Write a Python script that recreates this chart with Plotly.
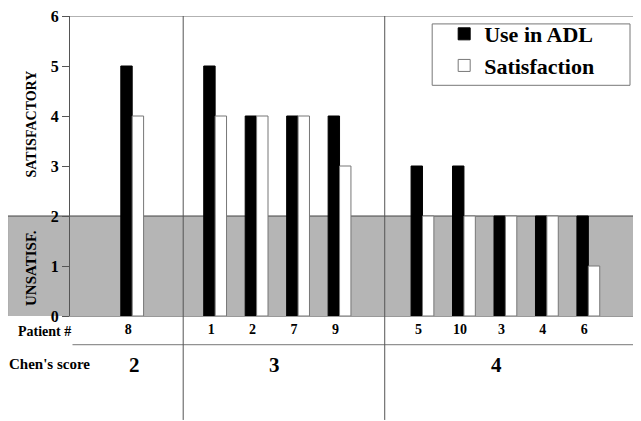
import plotly.graph_objects as go

# ---- data ----
patients = ["8", "1", "2", "7", "9", "5", "10", "3", "4", "6"]
slots = [1, 3, 4, 5, 6, 8, 9, 10, 11, 12]          # category slot of each patient
use_in_adl = [5, 5, 4, 4, 4, 3, 3, 2, 2, 2]
satisfaction = [4, 4, 4, 4, 3, 2, 2, 2, 2, 1]
chen_scores = ["2", "3", "4"]
chen_groups = [[1], [3, 4, 5, 6], [8, 9, 10, 11, 12]]
y_ticks = [0, 1, 2, 3, 4, 5, 6]

SERIF = "Liberation Serif, Times New Roman, serif"

OFF = 8                      # page body margin
W, H = 641 - OFF, 421 - OFF
ML, MR, MT, MB = 69.5 - OFF, 0, 13 - OFF, 113 - OFF
PW, PH = W - ML - MR, H - MT - MB


def px_x(sx):
    return (sx - OFF - ML) / PW


def px_y(sy):
    return (H - MB - (sy - OFF)) / PH


def bold(size):
    return dict(family=SERIF, size=size, color="black", weight="bold")


fig = go.Figure()
fig.add_trace(go.Bar(
    x=slots, y=use_in_adl, name="Use in ADL",
    marker=dict(color="black", line=dict(color="black", width=1)),
))
fig.add_trace(go.Bar(
    x=slots, y=satisfaction, name="Satisfaction",
    marker=dict(color="white", line=dict(color="#777777", width=1)),
))

shapes = [
    dict(type="rect", xref="paper", yref="y", x0=px_x(7), x1=px_x(639), y0=-0.1, y1=2,
         fillcolor="#b5b5b5", line=dict(color="#444444", width=1), layer="below"),
    dict(type="line", xref="paper", yref="y", x0=0, x1=1, y0=6, y1=6,
         line=dict(color="#666666", width=1)),
    dict(type="line", xref="paper", yref="paper", x0=px_x(72), x1=px_x(637),
         y0=px_y(345), y1=px_y(345), line=dict(color="#777777", width=1)),
    dict(type="line", xref="x", yref="paper", x0=2.23, x1=2.23, y0=px_y(421), y1=1,
         line=dict(color="#555555", width=1)),
    dict(type="line", xref="x", yref="paper", x0=7.09, x1=7.09, y0=px_y(421), y1=1,
         line=dict(color="#555555", width=1)),
    dict(type="rect", xref="paper", yref="paper", x0=px_x(432), x1=px_x(630),
         y0=px_y(83), y1=px_y(21), line=dict(color="#777777", width=1),
         fillcolor="white", layer="above"),
]

annotations = [
    dict(text="Patient #", xref="paper", yref="paper", x=px_x(44), y=px_y(332),
         xanchor="center", yanchor="middle", showarrow=False, font=bold(14)),
    dict(text="Chen's score", xref="paper", yref="paper", x=px_x(49), y=px_y(364),
         xanchor="center", yanchor="middle", showarrow=False, font=bold(15)),
    dict(text="SATISFACTORY", xref="paper", yref="y", x=px_x(30), y=3.84, textangle=-90,
         xanchor="center", yanchor="middle", showarrow=False, font=bold(14)),
    dict(text="UNSATISF.", xref="paper", yref="y", x=px_x(30), y=0.95, textangle=-90,
         xanchor="center", yanchor="middle", showarrow=False, font=bold(15)),
]
for score, grp, shift in zip(chen_scores, chen_groups, [2, -3, -9]):
    annotations.append(dict(
        text=score, xref="x", yref="paper", x=sum(grp) / len(grp), y=px_y(365),
        xanchor="center", yanchor="middle", xshift=shift, showarrow=False, font=bold(21)))

fig.update_layout(
    width=W, height=H,
    margin=dict(l=ML, r=MR, t=MT, b=MB),
    paper_bgcolor="white", plot_bgcolor="white",
    font=dict(family=SERIF, color="black"),
    barmode="group", bargap=0.45, bargroupgap=0,
    showlegend=True,
    legend=dict(x=px_x(444), y=px_y(10), xanchor="left", yanchor="top",
                bgcolor="rgba(0,0,0,0)", borderwidth=0, font=bold(22)),
    shapes=shapes, annotations=annotations,
    xaxis=dict(range=[-0.5, 13.27], tickmode="array", tickvals=slots, ticktext=patients,
               ticks="", showgrid=False, zeroline=False, showline=True,
               linecolor="#999999", linewidth=1, ticklabelstandoff=0,
               ticklabelshift=-4, tickfont=bold(14),
               minor=dict(tickvals=[i + 0.5 for i in range(-1, 14)], ticks="outside",
                          ticklen=5, tickcolor="white", tickwidth=1, showgrid=False)),
    yaxis=dict(range=[0, 6], tickmode="array", tickvals=y_ticks, ticks="outside",
               ticklen=7, tickcolor="#555555", showgrid=False, zeroline=False,
               showline=True, linecolor="#555555", linewidth=1, ticklabelstandoff=0,
               ticklabeloverflow="allow", tickfont=bold(16)),
)

fig.write_html("out.html")
